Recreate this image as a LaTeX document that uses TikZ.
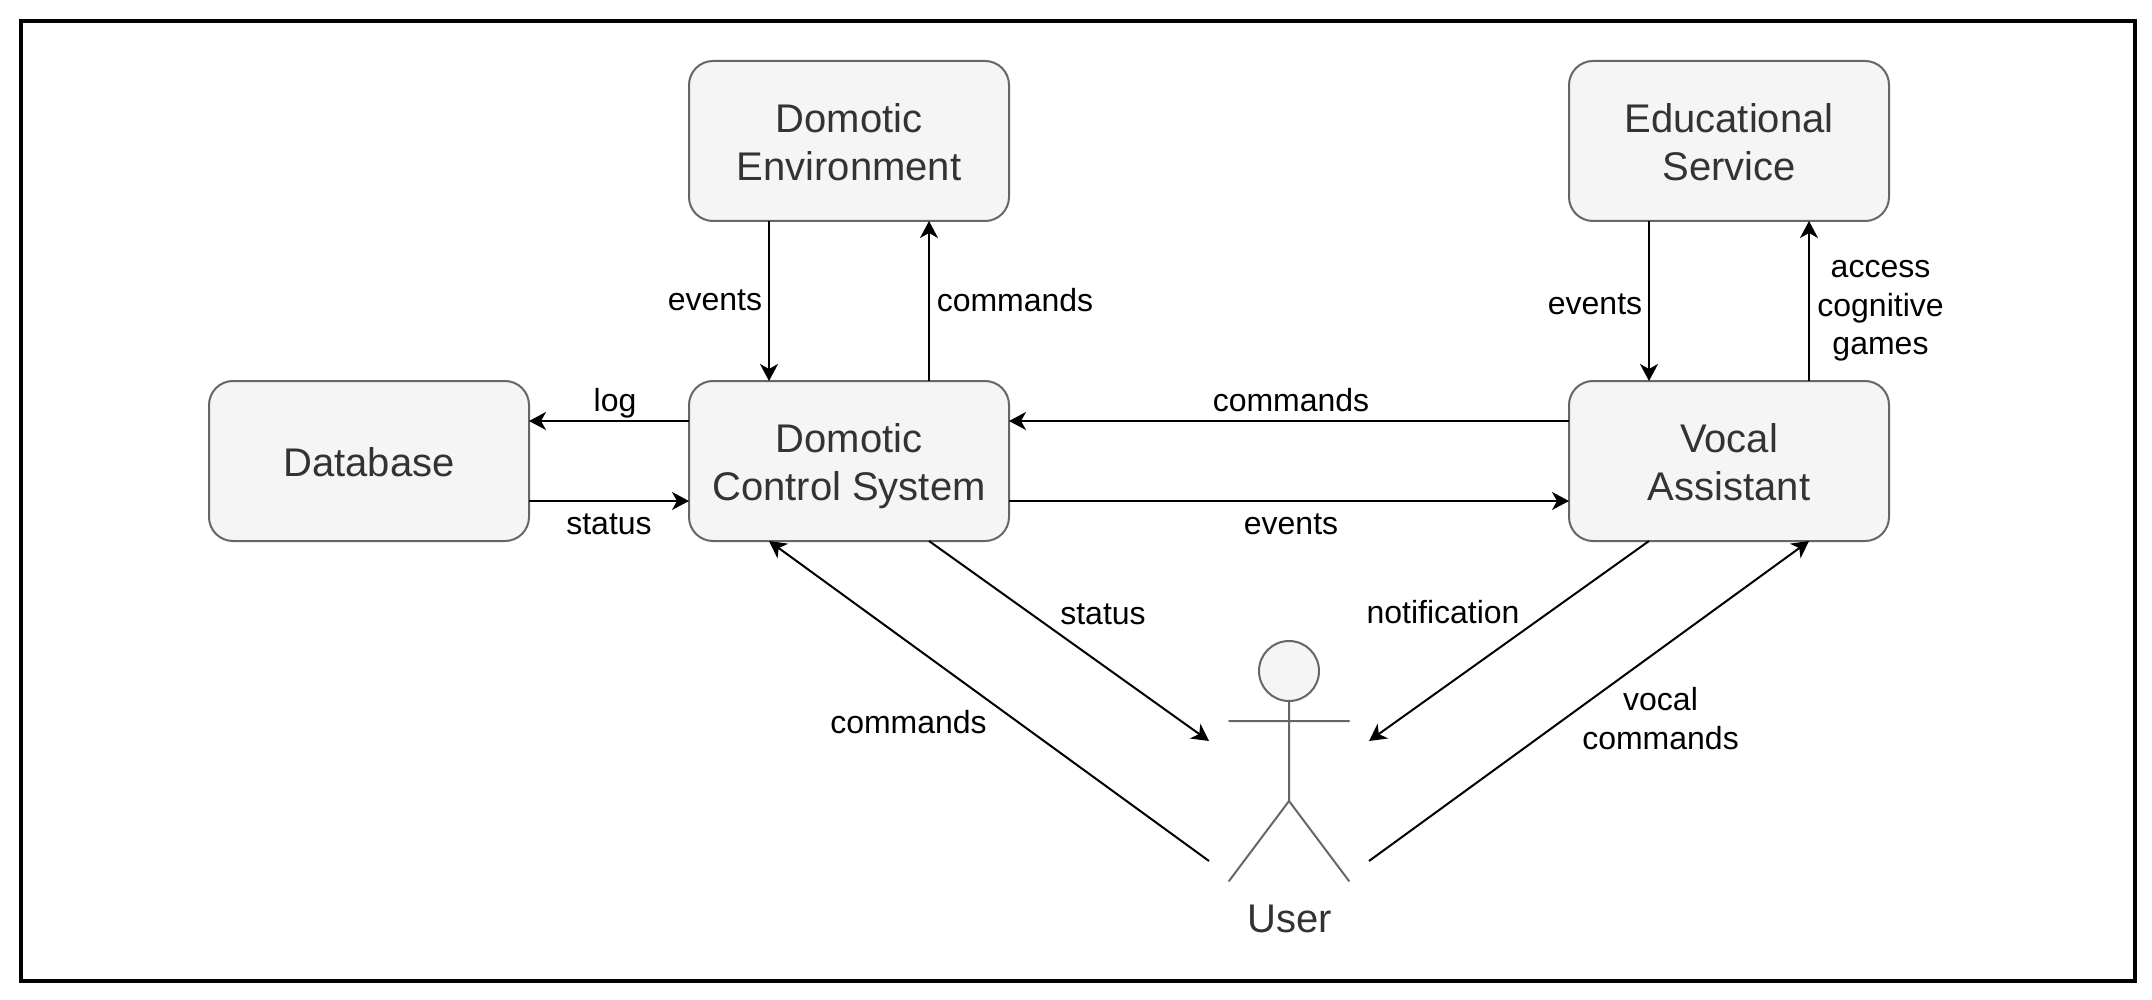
\documentclass[tikz,border=0pt]{standalone}
\usepackage{fontspec}
\setmainfont{Liberation Sans}
\usetikzlibrary{arrows.meta,calc}
\definecolor{boxfill}{HTML}{F5F5F5}
\definecolor{boxline}{HTML}{666666}
\definecolor{boxtext}{HTML}{333333}
\newcommand{\boxstrut}{\rule[-8.5pt]{0pt}{48pt}}
\tikzset{
  blockbox/.style={draw=boxline,fill=boxfill,line width=2pt,rounded corners=24pt,minimum width=320pt,minimum height=160pt,inner sep=0pt,outer sep=0pt,align=center,text=boxtext,font=\fontsize{40}{48}\selectfont},
  flow/.style={draw=black,line width=2pt,-{Stealth[length=17pt,width=18pt,inset=5pt]}},
  flowlabel/.style={inner sep=0pt,align=center,text=black,font=\fontsize{32}{38.4}\selectfont},
  actorline/.style={draw=boxline,line width=2pt,line cap=round},
}
\begin{document}
\begin{tikzpicture}[x=1pt,y=-1pt]
\useasboundingbox (0,0) rectangle (2152,1000);
\fill[white] (0,0) rectangle (2152,1000);
\draw[black,line width=4pt] (21,21) rectangle (2135,981);
% boxes
\node[blockbox] (de) at (849,141) {\boxstrut Domotic\\\boxstrut Environment};
\node[blockbox] (es) at (1729,141) {\boxstrut Educational\\\boxstrut Service};
\node[blockbox] (db) at (369,461) {\boxstrut Database};
\node[blockbox] (dcs) at (849,461) {\boxstrut Domotic\\\boxstrut Control System};
\node[blockbox] (va) at (1729,461) {\boxstrut Vocal\\\boxstrut Assistant};
% actor
\node[circle,draw=boxline,fill=boxfill,line width=2pt,minimum size=60pt,inner sep=0pt,outer sep=0pt] (head) at (1289,671) {};
\coordinate (hip) at (1289,801);
\coordinate (armL) at (1229,721);
\coordinate (armR) at (1349,721);
\coordinate (footL) at (1229,881);
\coordinate (footR) at (1349,881);
\draw[actorline] (head.south) -- (hip) (armL) -- (armR) (footL) -- (hip) -- (footR);
\node[inner sep=0pt,text=boxtext,font=\fontsize{40}{48}\selectfont] (user) at (1290,919) {User};
% free ends around the actor
\coordinate (uTL) at (1209,741);
\coordinate (uTR) at (1369,741);
\coordinate (uBL) at (1209,861);
\coordinate (uBR) at (1369,861);
% vertical connectors
\draw[flow] ($(de.south west)!0.25!(de.south east)$) -- ($(dcs.north west)!0.25!(dcs.north east)$);
\draw[flow] ($(dcs.north west)!0.75!(dcs.north east)$) -- ($(de.south west)!0.75!(de.south east)$);
\draw[flow] ($(es.south west)!0.25!(es.south east)$) -- ($(va.north west)!0.25!(va.north east)$);
\draw[flow] ($(va.north west)!0.75!(va.north east)$) -- ($(es.south west)!0.75!(es.south east)$);
% horizontal connectors
\draw[flow] ($(dcs.north west)!0.25!(dcs.south west)$) -- ($(db.north east)!0.25!(db.south east)$);
\draw[flow] ($(db.north east)!0.75!(db.south east)$) -- ($(dcs.north west)!0.75!(dcs.south west)$);
\draw[flow] ($(va.north west)!0.25!(va.south west)$) -- ($(dcs.north east)!0.25!(dcs.south east)$);
\draw[flow] ($(dcs.north east)!0.75!(dcs.south east)$) -- ($(va.north west)!0.75!(va.south west)$);
% diagonal connectors
\draw[flow] ($(dcs.south west)!0.75!(dcs.south east)$) -- (uTL);
\draw[flow] ($(va.south west)!0.25!(va.south east)$) -- (uTR);
\draw[flow] (uBL) -- ($(dcs.south west)!0.25!(dcs.south east)$);
\draw[flow] (uBR) -- ($(va.south west)!0.75!(va.south east)$);
% labels
\node[flowlabel] (l1) at (715,300) {events};
\node[flowlabel] (l2) at (1015,300) {commands};
\node[flowlabel] (l3) at (1595,304) {events};
\node[flowlabel] (l4) at (1880.5,311) {access\\cognitive\\games};
\node[flowlabel] (l5) at (1291,400) {commands};
\node[flowlabel] (l6) at (1291,524) {events};
\node[flowlabel] (l7) at (615,403) {log};
\node[flowlabel] (l8) at (609,524) {status};
\node[flowlabel] (l9) at (1103,614) {status};
\node[flowlabel] (l10) at (1443,612) {notification};
\node[flowlabel] (l11) at (908.5,722) {commands};
\node[flowlabel] (l12) at (1660.5,718.5) {vocal\\commands};
\end{tikzpicture}
\end{document}
